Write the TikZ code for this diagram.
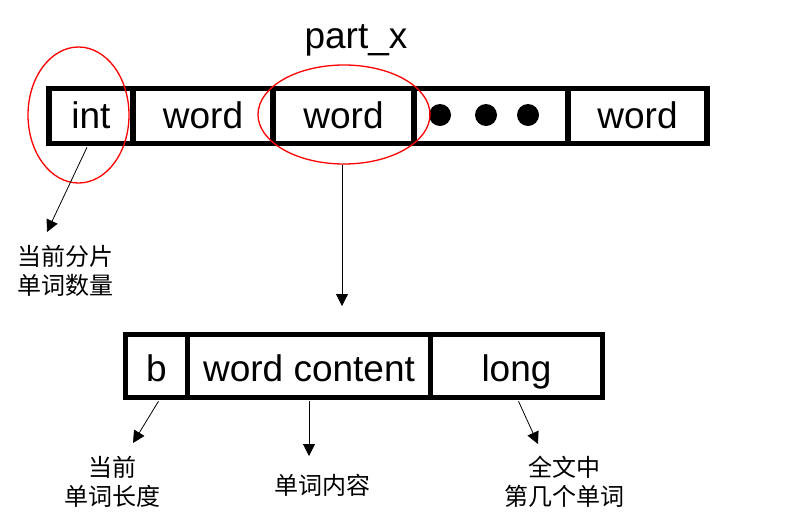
\documentclass[tikz,border=0pt]{standalone}
\usepackage{fontspec}
\setmainfont{Liberation Sans}
\newfontfamily\cjk{Noto Sans CJK SC}
\usetikzlibrary{shapes.geometric,arrows.meta}
\begin{document}
\begin{tikzpicture}[x=1pt,y=-1pt,
  topcell/.style={draw, line width=5.5pt, minimum height=55pt, inner sep=0pt,
    font=\fontsize{37}{40}\selectfont, text height=31pt, text depth=7pt},
  botcell/.style={draw, line width=5.5pt, minimum height=63pt, inner sep=0pt,
    font=\fontsize{37}{40}\selectfont, text height=37pt, text depth=6pt},
  redring/.style={ellipse, draw=red, line width=1.3pt, inner sep=0pt},
  conn/.style={-{Triangle[length=12pt,width=12pt]}, line width=0.8pt},
  note/.style={font=\cjk\fontsize{24}{29}\selectfont, align=center, inner sep=0pt},
  blackdot/.style={circle, fill=black, minimum size=22pt, inner sep=0pt}]
\useasboundingbox (0,0) rectangle (790,528);
\fill[white] (0,0) rectangle (790,528);

\node[font=\fontsize{37}{40}\selectfont] (title) at (356,40) {part\_x};

% top row
\node[topcell, minimum width=84pt]  (int)   at (91,116)    {int};
\node[topcell, minimum width=140pt] (w1)    at (203,116)   {word};
\node[topcell, minimum width=141pt] (w2)    at (343.5,116) {word};
\node[topcell, minimum width=154pt] (dots)  at (491,116)   {};
\node[topcell, minimum width=139pt] (w3)    at (637.5,116) {word};
\node[blackdot] (d1) at (440,115) {};
\node[blackdot] (d2) at (486,115) {};
\node[blackdot] (d3) at (528,115) {};

% red marks
\node[redring, minimum width=101pt, minimum height=136pt] (e1) at (78.5,115) {};
\node[redring, minimum width=172pt, minimum height=99pt]  (e2) at (344,114.5) {};

% bottom row
\node[botcell, minimum width=62pt]  (b)    at (156.5,366) {b};
\node[botcell, minimum width=243pt] (wc)   at (309,366)   {word content};
\node[botcell, minimum width=172pt] (lg)   at (516.5,366) {long};

% notes
\node[note] (n1) at (65,271)    {当前分片\\单词数量};
\node[note] (n2) at (112.5,482) {当前\\单词长度};
\node[note] (n3) at (322,485)   {单词内容};
\node[note] (n4) at (564,482)   {全文中\\第几个单词};

% tips
\coordinate (t1) at (47,232);
\coordinate (t2) at (342,306);
\coordinate (t3) at (133,443);
\coordinate (t4) at (309,456);
\coordinate (t5) at (538,444);

\draw[conn] ([xshift=-4pt,yshift=-1pt]int.south) -- (t1);
\draw[conn] ([xshift=-2pt]e2.south) -- (t2);
\draw[conn] ([xshift=2pt,yshift=-1pt]b.south) -- (t3);
\draw[conn] ([yshift=-1pt]wc.south) -- (t4);
\draw[conn] ([xshift=2pt,yshift=-1pt]lg.south) -- (t5);
\end{tikzpicture}
\end{document}
